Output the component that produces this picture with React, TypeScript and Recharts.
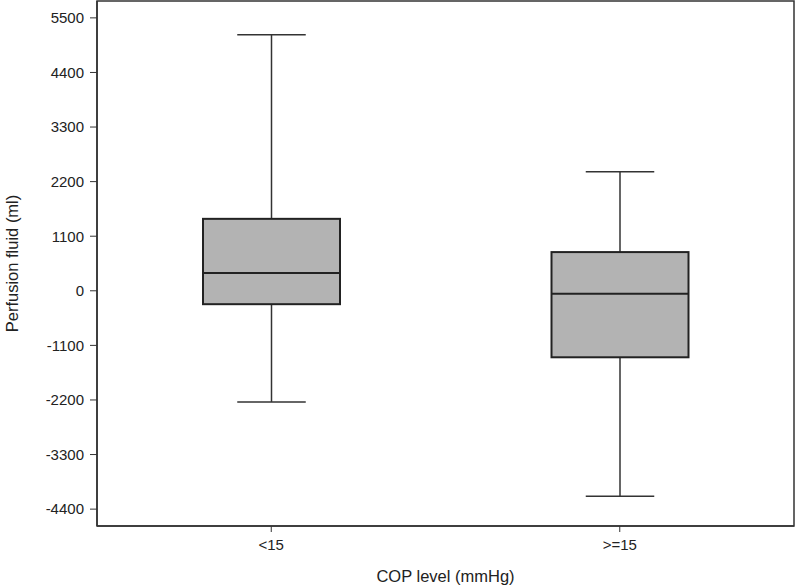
import React from 'react';
import { ComposedChart, Bar, XAxis, YAxis, ReferenceArea } from 'recharts';

const categories = ['<15', '>=15'];
const mins = [-2240, -4140];
const q1s = [-270, -1340];
const medians = [360, -60];
const q3s = [1450, 780];
const maxs = [5160, 2400];
const yTicks = [-4400, -3300, -2200, -1100, 0, 1100, 2200, 3300, 4400, 5500];

const data = categories.map((name, i) => ({
  name,
  min: mins[i],
  q1: q1s[i],
  median: medians[i],
  q3: q3s[i],
  max: maxs[i],
}));

const Y_MIN = -4740;
const Y_MAX = 5840;
const font = '"Liberation Sans", Arial, sans-serif';

function BoxShape(props: any) {
  const { x, y, width, height, payload } = props;
  if (height == null || !payload) return null;
  const { min, q1, median, q3, max } = payload;
  const py = (v: number) => y + ((max - v) / (max - min)) * height;
  const cx = x + width / 2;
  const cap = width / 4;
  return (
    <g>
      <line x1={cx} x2={cx} y1={py(max)} y2={py(q3)} stroke="#333" strokeWidth={1.5} />
      <line x1={cx} x2={cx} y1={py(q1)} y2={py(min)} stroke="#333" strokeWidth={1.5} />
      <line x1={cx - cap} x2={cx + cap} y1={py(max)} y2={py(max)} stroke="#333" strokeWidth={1.5} />
      <line x1={cx - cap} x2={cx + cap} y1={py(min)} y2={py(min)} stroke="#333" strokeWidth={1.5} />
      <rect x={x} y={py(q3)} width={width} height={py(q1) - py(q3)} fill="#b3b3b3" stroke="#222" strokeWidth={2} />
      <line x1={x} x2={x + width} y1={py(median)} y2={py(median)} stroke="#222" strokeWidth={2} />
    </g>
  );
}

export default function App() {
  return (
    <div style={{ position: 'absolute', left: 0, top: 0, background: '#fff' }}>
      <ComposedChart
        width={797}
        height={587}
        data={data}
        margin={{ top: 1, right: 3, left: 0, bottom: 0 }}
      >
        <ReferenceArea y1={Y_MIN} y2={Y_MAX} fill="none" stroke="#333" strokeWidth={1.5} />
        <XAxis
          dataKey="name"
          height={61}
          axisLine={{ stroke: '#333', strokeWidth: 1.5 }}
          tickLine={{ stroke: '#333' }}
          tickSize={6}
          tickMargin={7}
          tick={{ fill: '#222', fontSize: 15, fontFamily: font }}
          label={{ value: 'COP level (mmHg)', position: 'insideBottom', offset: 5, fill: '#222', fontSize: 16.5, fontFamily: font }}
        />
        <YAxis
          width={97}
          domain={[Y_MIN, Y_MAX]}
          ticks={yTicks}
          interval={0}
          axisLine={{ stroke: '#333', strokeWidth: 1.5 }}
          tickLine={{ stroke: '#333' }}
          tickSize={7}
          tickMargin={6}
          tick={{ fill: '#222', fontSize: 15, fontFamily: font }}
          label={{ value: 'Perfusion fluid (ml)', angle: -90, position: 'insideLeft', offset: 12, fill: '#222', fontSize: 16.5, fontFamily: font, style: { textAnchor: 'middle' } }}
        />
        <Bar
          dataKey={(d: any) => [d.min, d.max]}
          barSize={137}
          shape={BoxShape}
          isAnimationActive={false}
        />
      </ComposedChart>
    </div>
  );
}
